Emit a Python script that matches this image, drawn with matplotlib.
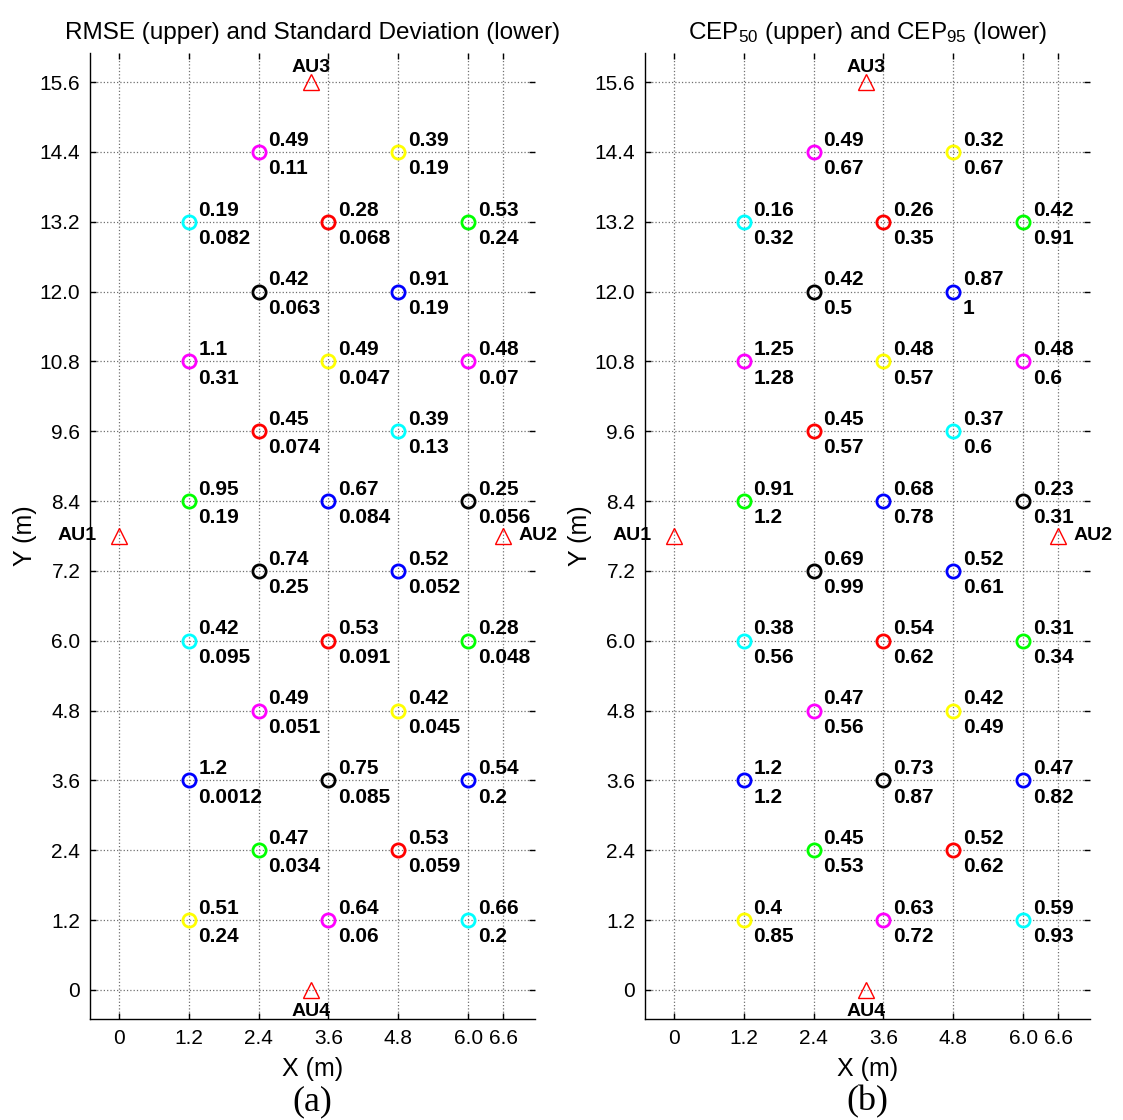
import matplotlib
matplotlib.use("Agg")
import matplotlib.pyplot as plt

plt.rcParams['font.family'] = ['Liberation Sans', 'DejaVu Sans']
plt.rcParams['mathtext.fontset'] = 'custom'
plt.rcParams['mathtext.rm'] = 'Liberation Sans'
plt.rcParams['mathtext.it'] = 'Liberation Sans:italic'

# Test point grid (metres) and marker colours
xs = [2.4, 4.8, 1.2, 3.6, 6.0, 2.4, 4.8, 1.2, 3.6, 6.0,
      2.4, 4.8, 1.2, 3.6, 6.0, 2.4, 4.8, 1.2, 3.6, 6.0,
      2.4, 4.8, 1.2, 3.6, 6.0, 2.4, 4.8, 1.2, 3.6, 6.0]
ys = [14.4, 14.4, 13.2, 13.2, 13.2, 12.0, 12.0, 10.8, 10.8, 10.8,
      9.6, 9.6, 8.4, 8.4, 8.4, 7.2, 7.2, 6.0, 6.0, 6.0,
      4.8, 4.8, 3.6, 3.6, 3.6, 2.4, 2.4, 1.2, 1.2, 1.2]
colors = ['#ff00ff', '#ffff00', '#00ffff', '#ff0000', '#00ff00',
          '#000000', '#0000ff', '#ff00ff', '#ffff00', '#ff00ff',
          '#ff0000', '#00ffff', '#00ff00', '#0000ff', '#000000',
          '#000000', '#0000ff', '#00ffff', '#ff0000', '#00ff00',
          '#ff00ff', '#ffff00', '#0000ff', '#000000', '#0000ff',
          '#00ff00', '#ff0000', '#ffff00', '#ff00ff', '#00ffff']

rmse = [0.49, 0.39, 0.19, 0.28, 0.53, 0.42, 0.91, 1.1, 0.49, 0.48,
        0.45, 0.39, 0.95, 0.67, 0.25, 0.74, 0.52, 0.42, 0.53, 0.28,
        0.49, 0.42, 1.2, 0.75, 0.54, 0.47, 0.53, 0.51, 0.64, 0.66]
std = [0.11, 0.19, 0.082, 0.068, 0.24, 0.063, 0.19, 0.31, 0.047, 0.07,
       0.074, 0.13, 0.19, 0.084, 0.056, 0.25, 0.052, 0.095, 0.091, 0.048,
       0.051, 0.045, 0.0012, 0.085, 0.2, 0.034, 0.059, 0.24, 0.06, 0.2]
cep50 = [0.49, 0.32, 0.16, 0.26, 0.42, 0.42, 0.87, 1.25, 0.48, 0.48,
         0.45, 0.37, 0.91, 0.68, 0.23, 0.69, 0.52, 0.38, 0.54, 0.31,
         0.47, 0.42, 1.2, 0.73, 0.47, 0.45, 0.52, 0.4, 0.63, 0.59]
cep95 = [0.67, 0.67, 0.32, 0.35, 0.91, 0.5, 1, 1.28, 0.57, 0.6,
         0.57, 0.6, 1.2, 0.78, 0.31, 0.99, 0.61, 0.56, 0.62, 0.34,
         0.56, 0.49, 1.2, 0.87, 0.82, 0.53, 0.62, 0.85, 0.72, 0.93]

# Anchor units
au_names = ['AU1', 'AU2', 'AU3', 'AU4']
au_x = [0.0, 6.6, 3.3, 3.3]
au_y = [7.8, 7.8, 15.6, 0.0]

xticks = [0, 1.2, 2.4, 3.6, 4.8, 6.0, 6.6]
xticklabels = ['0', '1.2', '2.4', '3.6', '4.8', '6.0', '6.6']
yticks = [0, 1.2, 2.4, 3.6, 4.8, 6.0, 7.2, 8.4, 9.6, 10.8, 12.0, 13.2, 14.4, 15.6]
yticklabels = ['0'] + ['%.1f' % v for v in yticks[1:]]

fig = plt.figure(figsize=(11.23, 11.20), dpi=100)
ax_a = fig.add_axes([90 / 1123, 1 - 1019 / 1120, 445 / 1123, 966 / 1120])
ax_b = fig.add_axes([645 / 1123, 1 - 1019 / 1120, 445 / 1123, 966 / 1120])


def draw_panel(ax, upper, lower, title, tag):
    ax.set_xlim(-0.5, 7.15)
    ax.set_ylim(-0.5, 16.1)
    ax.set_xticks(xticks)
    ax.set_xticklabels(xticklabels)
    ax.set_yticks(yticks)
    ax.set_yticklabels(yticklabels)
    ax.tick_params(direction='in', top=True, right=True, length=4,
                   width=1, labelsize=15, pad=7)
    ax.grid(True, color='#707070', linestyle=':', linewidth=0.9)
    ax.set_axisbelow(True)
    for side in ['top', 'right']:
        ax.spines[side].set_visible(False)
    for side in ['left', 'bottom']:
        ax.spines[side].set_linewidth(1.0)

    for x, y, c, u, l in zip(xs, ys, colors, upper, lower):
        ax.plot(x, y, 'o', markersize=9.5, markerfacecolor='none',
                markeredgecolor=c, markeredgewidth=2.0, zorder=3)
        ax.annotate('%g' % u, (x, y), xytext=(7, 4.5), textcoords='offset points',
                    fontsize=15, fontweight='bold', ha='left', va='baseline')
        ax.annotate('%g' % l, (x, y), xytext=(7, -16), textcoords='offset points',
                    fontsize=15, fontweight='bold', ha='left', va='baseline')

    ax.plot(au_x, au_y, '^', markersize=12, markerfacecolor='none',
            markeredgecolor='red', markeredgewidth=1.0, linestyle='none',
            zorder=3, clip_on=False)
    offsets = [(-16, 0, 'right', 'center'), (11.5, 0, 'left', 'center'),
               (0, 7, 'center', 'baseline'), (0, -19, 'center', 'baseline')]
    for name, x, y, (dx, dy, ha, va) in zip(au_names, au_x, au_y, offsets):
        ax.annotate(name, (x, y), xytext=(dx, dy), textcoords='offset points',
                    fontsize=14, fontweight='bold', ha=ha, va=va)

    ax.set_title(title, fontsize=17.5, pad=10)
    ax.set_xlabel('X (m)', fontsize=18, labelpad=7)
    ax.set_ylabel('Y (m)', fontsize=18, labelpad=2)
    ax.text(0.5, -0.069, tag, transform=ax.transAxes, ha='center', va='top',
            fontsize=26, family='Liberation Serif')


draw_panel(ax_a, rmse, std, 'RMSE (upper) and Standard Deviation (lower)', '(a)')
draw_panel(ax_b, cep50, cep95, r'CEP$_{50}$ (upper) and CEP$_{95}$ (lower)', '(b)')

fig.savefig('out.png', dpi=100)
